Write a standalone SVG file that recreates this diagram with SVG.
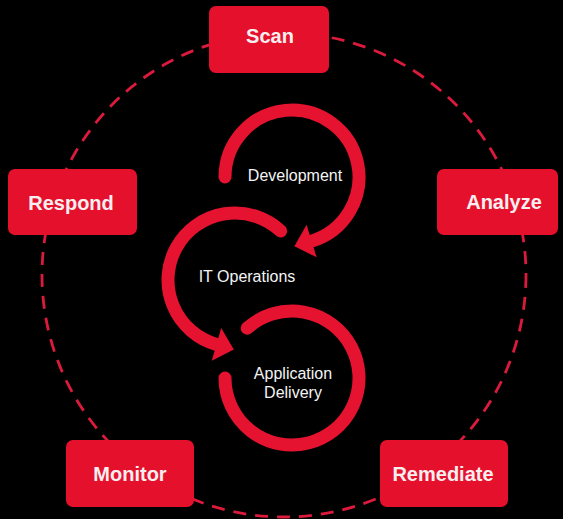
<svg xmlns="http://www.w3.org/2000/svg" width="563" height="519" viewBox="0 0 563 519">
  <style>
    .ring { fill: none; stroke: #dc1a3c; stroke-width: 2.8; stroke-dasharray: 13 9; }
    .loop { fill: none; stroke: #e5132f; stroke-width: 13; stroke-linecap: round; }
    .head { fill: #e5132f; }
    .box { fill: #e5102c; }
    .label { font-family: "Liberation Sans", Arial, sans-serif; font-weight: bold; font-size: 20px; fill: #f7eef0; text-anchor: middle; }
    .inner { font-family: "Liberation Sans", Arial, sans-serif; font-size: 16px; fill: #f4f4f4; text-anchor: middle; }
  </style>
  <rect width="563" height="519" fill="#000"/>

  <!-- outer dashed cycle -->
  <g id="connectors">
    <circle class="ring" cx="284" cy="275" r="242"/>
  </g>

  <!-- inner flow loops -->
  <g id="development">
    <path class="loop" d="M 225 177 A 67 67 0 1 1 311.6 241.1"/>
    <polygon class="head" points="306.6,224.8 316.6,257.3 294.4,246.3"/>
    <text class="inner" x="295" y="181">Development</text>
  </g>
  <g id="it-operations">
    <path class="loop" d="M 280.7 231 A 67 67 0 1 0 216.5 344.4"/>
    <polygon class="head" points="221.2,328.1 211.8,360.8 233.8,349.4"/>
    <text class="inner" x="247" y="282">IT Operations</text>
  </g>
  <g id="application-delivery">
    <path class="loop" d="M 247.2 328.2 A 67 67 0 1 1 225 378"/>
    <text class="inner" x="293" y="379">Application</text>
    <text class="inner" x="293" y="398">Delivery</text>
  </g>

  <!-- stage boxes -->
  <g id="scan">
    <rect class="box" x="209" y="6" width="120" height="67" rx="7"/>
    <text class="label" x="270" y="43">Scan</text>
  </g>
  <g id="respond">
    <rect class="box" x="8" y="169" width="129" height="66" rx="7"/>
    <text class="label" x="71" y="210">Respond</text>
  </g>
  <g id="analyze">
    <rect class="box" x="437" y="169" width="121" height="66" rx="7"/>
    <text class="label" x="504" y="209">Analyze</text>
  </g>
  <g id="monitor">
    <rect class="box" x="66" y="440" width="128" height="67" rx="7"/>
    <text class="label" x="130" y="481">Monitor</text>
  </g>
  <g id="remediate">
    <rect class="box" x="380" y="440" width="128" height="67" rx="7"/>
    <text class="label" x="443" y="481">Remediate</text>
  </g>
</svg>
